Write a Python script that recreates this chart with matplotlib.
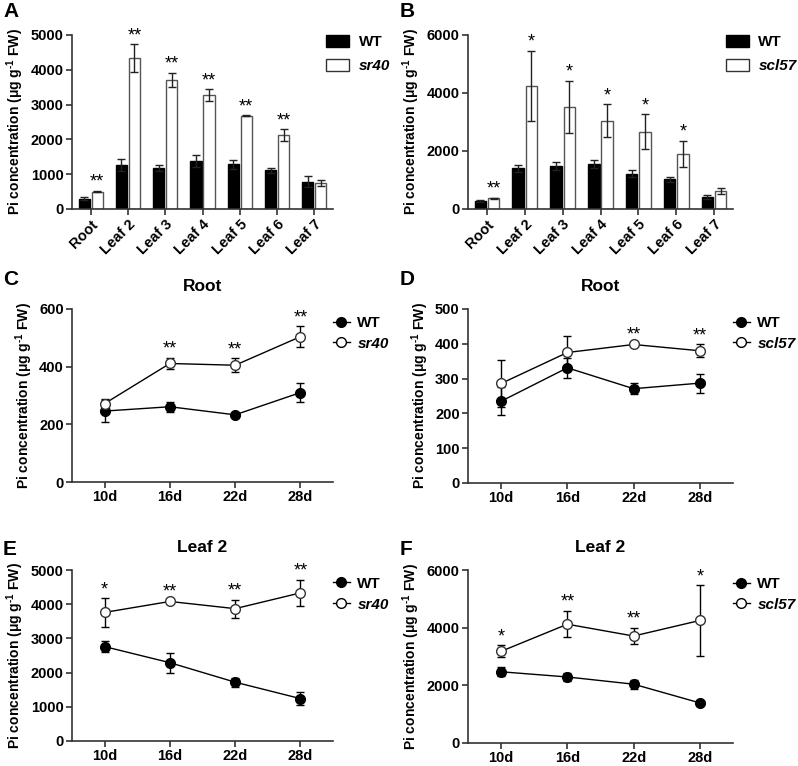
import matplotlib
matplotlib.use("Agg")
import matplotlib.pyplot as plt
import numpy as np
from matplotlib.patches import Patch
from matplotlib.lines import Line2D

plt.rcParams['font.family'] = ['Liberation Sans', 'DejaVu Sans']
plt.rcParams['font.weight'] = 'bold'
plt.rcParams['axes.labelweight'] = 'bold'
plt.rcParams['axes.titleweight'] = 'bold'
plt.rcParams['mathtext.fontset'] = 'custom'
plt.rcParams['mathtext.rm'] = 'Liberation Sans:bold'
plt.rcParams['mathtext.bf'] = 'Liberation Sans:bold'

# ---- data ----
tissues = ["Root", "Leaf 2", "Leaf 3", "Leaf 4", "Leaf 5", "Leaf 6", "Leaf 7"]
days = ["10d", "16d", "22d", "28d"]

# A: WT vs sr40 by tissue
a_wt = [300, 1260, 1180, 1380, 1290, 1110, 785]
a_wt_err = [40, 170, 80, 160, 130, 70, 150]
a_mut = [500, 4340, 3710, 3270, 2680, 2120, 740]
a_mut_err = [25, 400, 200, 170, 15, 170, 90]
a_stars = ["**", "**", "**", "**", "**", "**", ""]

# B: WT vs scl57 by tissue
b_wt = [275, 1400, 1480, 1550, 1220, 1020, 410]
b_wt_err = [20, 110, 130, 150, 110, 100, 70]
b_mut = [370, 4250, 3520, 3050, 2660, 1910, 620]
b_mut_err = [20, 1210, 900, 560, 600, 450, 100]
b_stars = ["**", "*", "*", "*", "*", "*", ""]

# C: Root, WT vs sr40 over time
c_wt = [246, 261, 233, 310]
c_wt_err = [38, 17, 5, 33]
c_mut = [272, 411, 405, 504]
c_mut_err = [15, 20, 25, 37]
c_stars = ["", "**", "**", "**"]

# D: Root, WT vs scl57 over time
d_wt = [235, 331, 271, 287]
d_wt_err = [40, 29, 15, 27]
d_mut = [286, 375, 398, 380]
d_mut_err = [68, 46, 3, 18]
d_stars = ["", "", "**", "**"]

# E: Leaf 2, WT vs sr40 over time
e_wt = [2760, 2290, 1720, 1240]
e_wt_err = [170, 290, 130, 180]
e_mut = [3760, 4080, 3870, 4330]
e_mut_err = [420, 30, 260, 390]
e_stars = ["*", "**", "**", "**"]

# F: Leaf 2, WT vs scl57 over time
f_wt = [2470, 2290, 2040, 1390]
f_wt_err = [150, 130, 150, 30]
f_mut = [3180, 4120, 3710, 4250]
f_mut_err = [210, 460, 280, 1220]
f_stars = ["*", "**", "**", "*"]

YLABEL = r"Pi concentration (μg g$^{\mathrm{\text{-}1}}$ FW)"
W, H = 798, 766


def make_ax(fig, left, right, top, bottom):
    return fig.add_axes([left / W, 1 - bottom / H, (right - left) / W, (bottom - top) / H])


def style(ax, ymax, ystep):
    for s in ("top", "right"):
        ax.spines[s].set_visible(False)
    for s in ("left", "bottom"):
        ax.spines[s].set_linewidth(1.2)
        ax.spines[s].set_color("#333333")
    ax.set_ylim(0, ymax)
    ax.set_yticks(np.arange(0, ymax + 1, ystep))
    ax.tick_params(length=4, width=1.2, color="#333333", labelsize=10.5, pad=2)
    ax.set_ylabel(YLABEL, fontsize=10, labelpad=3)


def stars(ax, x, tops, labels):
    for xi, t, s in zip(x, tops, labels):
        if s:
            ax.annotate(s, (xi, t), xytext=(0, 0), textcoords="offset points",
                        ha="center", va="bottom", fontsize=13, fontweight="normal",
                        annotation_clip=False)


def bar_panel(ax, wt, wt_err, mut, mut_err, labels, mut_name, ymax, ystep):
    x = np.arange(len(tissues))
    w = 0.3
    off = 0.175
    ax.bar(x - off, wt, w, color="black", edgecolor="black", linewidth=1,
           yerr=wt_err, capsize=3, error_kw=dict(elinewidth=1, capthick=1, ecolor="#222222"))
    ax.bar(x + off, mut, w, color="white", edgecolor="#555555", linewidth=1,
           yerr=mut_err, capsize=3, error_kw=dict(elinewidth=1, capthick=1, ecolor="#222222"))
    style(ax, ymax, ystep)
    ax.set_xlim(-0.5, 6.5)
    ax.set_xticks(x)
    ax.set_xticklabels(tissues, rotation=45, ha="right", rotation_mode="anchor", fontsize=10.5)
    stars(ax, x + off, np.array(mut) + np.array(mut_err), labels)
    handles = [Patch(facecolor="black", edgecolor="black"),
               Patch(facecolor="white", edgecolor="#333333")]
    leg = ax.legend(handles, ["WT", mut_name], loc="upper left", bbox_to_anchor=(0.975, 1.0),
                    frameon=False, fontsize=11, handlelength=1.5, handleheight=0.85,
                    borderaxespad=0, borderpad=0, labelspacing=0.6, handletextpad=0.6)
    leg.get_texts()[1].set_fontstyle("italic")


def line_panel(ax, wt, wt_err, mut, mut_err, labels, mut_name, title, ymax, ystep):
    x = np.arange(len(days))
    ax.errorbar(x, wt, yerr=wt_err, color="black", lw=1, marker="o", ms=7,
                mfc="black", mec="black", capsize=3, elinewidth=1, capthick=1)
    ax.errorbar(x, mut, yerr=mut_err, color="black", lw=1, marker="o", ms=7,
                mfc="white", mec="#333333", capsize=3, elinewidth=1, capthick=1)
    style(ax, ymax, ystep)
    ax.set_xlim(-0.5, 3.5)
    ax.set_xticks(x)
    ax.set_xticklabels(days, fontsize=10.5)
    ax.set_title(title, fontsize=12.5, pad=13)
    stars(ax, x, np.array(mut) + np.array(mut_err), labels)
    handles = [Line2D([], [], color="black", lw=1, marker="o", ms=7, mfc="black"),
               Line2D([], [], color="black", lw=1, marker="o", ms=7, mfc="white")]
    leg = ax.legend(handles, ["WT", mut_name], loc="upper left", bbox_to_anchor=(1.0, 0.96),
                    frameon=False, fontsize=11, handlelength=1.1,
                    borderaxespad=0, borderpad=0, labelspacing=0.45, handletextpad=0.5)
    leg.get_texts()[1].set_fontstyle("italic")


fig = plt.figure(figsize=(W / 100, H / 100), dpi=100)

axA = make_ax(fig, 72, 333, 35, 209)
bar_panel(axA, a_wt, a_wt_err, a_mut, a_mut_err, a_stars, "sr40", 5000, 1000)
axB = make_ax(fig, 468, 733, 35, 209)
bar_panel(axB, b_wt, b_wt_err, b_mut, b_mut_err, b_stars, "scl57", 6000, 2000)
axC = make_ax(fig, 72, 333, 309, 482)
line_panel(axC, c_wt, c_wt_err, c_mut, c_mut_err, c_stars, "sr40", "Root", 600, 200)
axD = make_ax(fig, 468, 733, 309, 483)
line_panel(axD, d_wt, d_wt_err, d_mut, d_mut_err, d_stars, "scl57", "Root", 500, 100)
axE = make_ax(fig, 72, 333, 570, 741)
line_panel(axE, e_wt, e_wt_err, e_mut, e_mut_err, e_stars, "sr40", "Leaf 2", 5000, 1000)
axF = make_ax(fig, 468, 733, 570, 743)
line_panel(axF, f_wt, f_wt_err, f_mut, f_mut_err, f_stars, "scl57", "Leaf 2", 6000, 2000)

for lab, x, y in [("A", 3, 2), ("B", 400, 2), ("C", 3, 270), ("D", 400, 270),
                  ("E", 3, 540), ("F", 400, 540)]:
    fig.text(x / W, 1 - y / H, lab, fontsize=15, fontweight="bold", ha="left", va="top")

fig.savefig("out.png", dpi=100)
